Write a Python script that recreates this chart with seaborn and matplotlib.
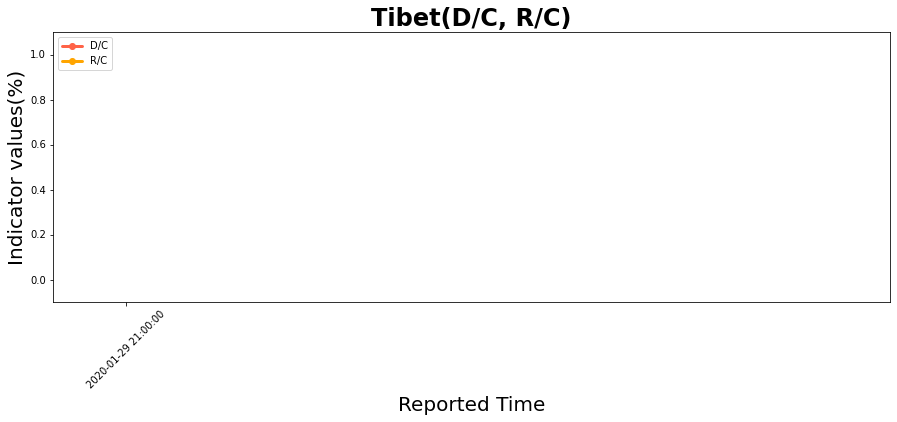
import numpy as np
import pandas as pd
import seaborn as sns
import matplotlib.pyplot as plt

# Tibet: no confirmed cases yet at the first report, so D/C and R/C are undefined
times = ['2020-01-29 21:00:00']
dc_values = [np.nan]
rc_values = [np.nan]

sns.set_style('ticks', {'axes.edgecolor': 'black', 'text.color': 'black',
                        'axes.labelcolor': 'black', 'xtick.color': 'black',
                        'ytick.color': 'black'})
plt.rcParams['font.family'] = ['DejaVu Sans']

df = pd.DataFrame({'time': times, 'D/C': dc_values, 'R/C': rc_values})

fig = plt.figure(figsize=(897 / 72, 422 / 72), dpi=72)
ax = fig.add_axes([53 / 897, 1 - 302 / 422, 837 / 897, 270 / 422])

x = np.arange(len(df))
ax.plot(x, df['D/C'], color='tomato', marker='o', linewidth=3, label='D/C')
ax.plot(x, df['R/C'], color='orange', marker='o', linewidth=3, label='R/C')
sns.despine(ax=ax, top=False, right=False)

ax.set_xlim(-0.1, 1.047)
ax.set_ylim(-0.1, 1.1)
ax.set_xticks(x)
ax.set_xticklabels(df['time'], rotation=45, fontsize=10)
ax.set_yticks([0.0, 0.2, 0.4, 0.6, 0.8, 1.0])
ax.tick_params(axis='y', labelsize=10)

ax.set_title('Tibet(D/C, R/C)', fontsize=24, fontweight='bold')
ax.set_xlabel('Reported Time', fontsize=20, labelpad=6)
ax.set_ylabel('Indicator values(%)', fontsize=20)
ax.legend(loc='upper left', fontsize=10)

fig.savefig('out.png', dpi=72)
